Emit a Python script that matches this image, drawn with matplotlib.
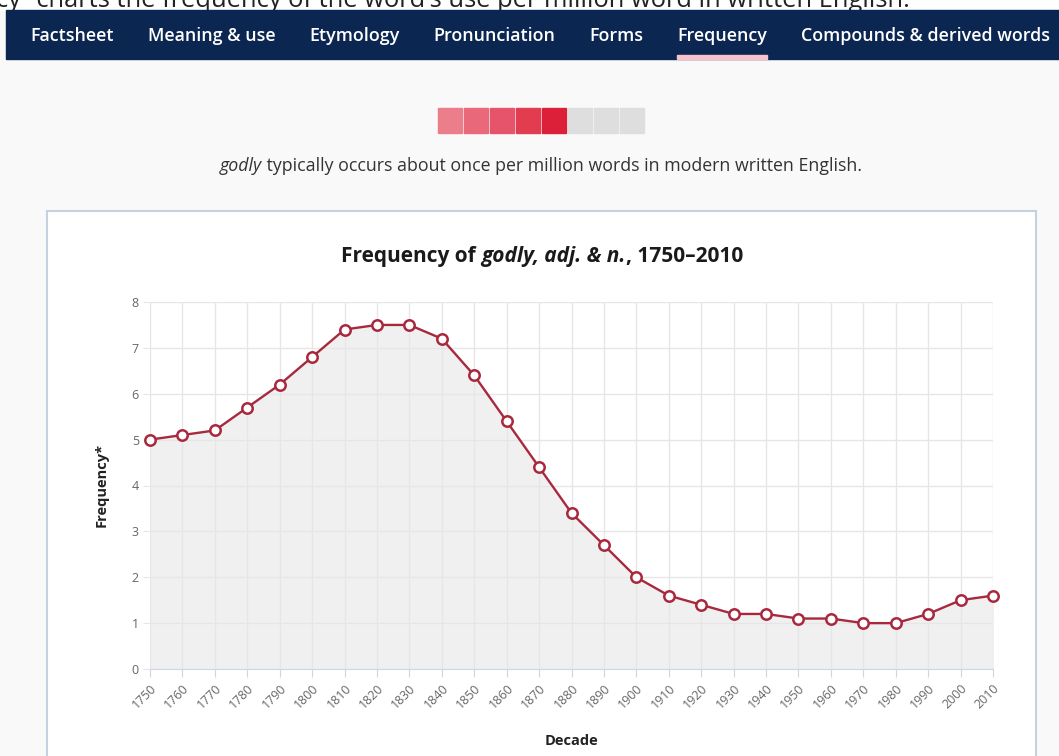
import matplotlib
matplotlib.use("Agg")
import matplotlib.pyplot as plt
from matplotlib.patches import Rectangle

W, H = 1059, 756

decades = list(range(1750, 2011, 10))
frequency = [5.0, 5.1, 5.2, 5.7, 6.2, 6.8, 7.4, 7.5, 7.5, 7.2, 6.4, 5.4, 4.4,
             3.4, 2.7, 2.0, 1.6, 1.4, 1.2, 1.2, 1.1, 1.1, 1.0, 1.0, 1.2, 1.5, 1.6]
y_ticks = [0, 1, 2, 3, 4, 5, 6, 7, 8]

nav_items = ["Factsheet", "Meaning & use", "Etymology", "Pronunciation",
             "Forms", "Frequency", "Compounds & derived words"]
active_item = "Frequency"

band_colors = ["#ec7d8a", "#e9687a", "#e5546a", "#e23c51", "#dc2039",
               "#dedede", "#dedede", "#dedede"]

LINE = "#a8293d"
FONT = ["Open Sans", "DejaVu Sans"]

plt.rcParams["font.family"] = FONT

fig = plt.figure(figsize=(W / 100, H / 100), dpi=100)
fig.patch.set_facecolor("#f9f9f9")
renderer = fig.canvas.get_renderer()


def px(x, y):
    return x / W, 1 - y / H


def rect(x, y, w, h, **kw):
    fig.patches.append(Rectangle(px(x, y + h), w / W, h / H,
                                 transform=fig.transFigure, figure=fig, **kw))


def runs(parts, x, y, size, color, align="center", weight="normal"):
    # draw pieces of text side by side, parts = [(text, style), ...]
    texts = []
    for s, style in parts:
        t = fig.text(0, 0, s, fontsize=size, color=color, style=style,
                     weight=weight, va="baseline")
        texts.append(t)
    widths = [t.get_window_extent(renderer).width for t in texts]
    total = sum(widths)
    cur = x - total / 2 if align == "center" else x
    for t, w in zip(texts, widths):
        t.set_position(px(cur, y))
        cur += w
    return total


# top strip with the page text cut off by the nav bar
rect(0, 0, W, 10, color="white", zorder=0)
fig.text(*px(-4, 7), "cy\u201d charts the frequency of the word\u2019s use per million word in written English.",
         fontsize=18.4, color="#222222", va="baseline", zorder=1)

# nav bar
rect(6, 10, W - 6, 49, color="#0b2650", zorder=2)
x = 30
for item in nav_items:
    t = fig.text(*px(x, 41), item, fontsize=12.85, color="white",
                 weight="semibold", va="baseline", zorder=3)
    w = t.get_window_extent(renderer).width
    if item == active_item:
        rect(x, 55, w, 4, color="#f6c3cd", zorder=3)
    x += w + 34

# frequency band squares
for i, c in enumerate(band_colors):
    rect(438 + i * 26, 108, 24, 25, color=c, zorder=2)

runs([("godly", "italic"), (" typically occurs about once per million words in modern written English.", "normal")],
     541, 171, 12.75, "#333333")

# chart card
rect(47, 211, 989, H - 211 + 5, facecolor="white", edgecolor="#c6d1df", lw=1.5, zorder=1)

runs([("Frequency of ", "normal"), ("godly, adj. & n.", "italic"), (", 1750\u20132010", "normal")],
     542, 262, 15, "#1a1a1a", weight="bold")

ax = fig.add_axes([150 / W, 1 - 669 / H, 843 / W, 367 / H], zorder=5)
ax.patch.set_alpha(0)
ax.fill_between(decades, frequency, color="#f0f0f0", zorder=1)
ax.plot(decades, frequency, color=LINE, lw=1.7, marker="o", ms=7.5,
        mfc="white", mec=LINE, mew=1.8, clip_on=False, zorder=4)
ax.set_xlim(decades[0], decades[-1])
ax.set_ylim(y_ticks[0], y_ticks[-1])
ax.set_xticks(decades)
ax.set_xticklabels([str(d) for d in decades], rotation=45, ha="right",
                   rotation_mode="anchor")
ax.set_yticks(y_ticks)
ax.grid(color="#e6e6e6", lw=1, zorder=2)
ax.set_axisbelow(False)
for side in ["top", "right", "left"]:
    ax.spines[side].set_visible(False)
ax.spines["bottom"].set_color("#ccd6eb")
ax.tick_params(axis="x", colors="#666666", labelsize=9, length=6,
               color="#ccd6eb", pad=3)
ax.tick_params(axis="y", colors="#666666", labelsize=9, length=5,
               color="#e6e6e6", pad=3)

fig.text(*px(571, 741), "Decade", fontsize=10.5, weight="bold", color="#222222",
         ha="center", va="center")
fig.text(*px(102, 485), "Frequency*", fontsize=10.5, weight="bold", color="#222222",
         ha="center", va="center", rotation=90)

fig.savefig("out.png", dpi=100, facecolor=fig.get_facecolor())
